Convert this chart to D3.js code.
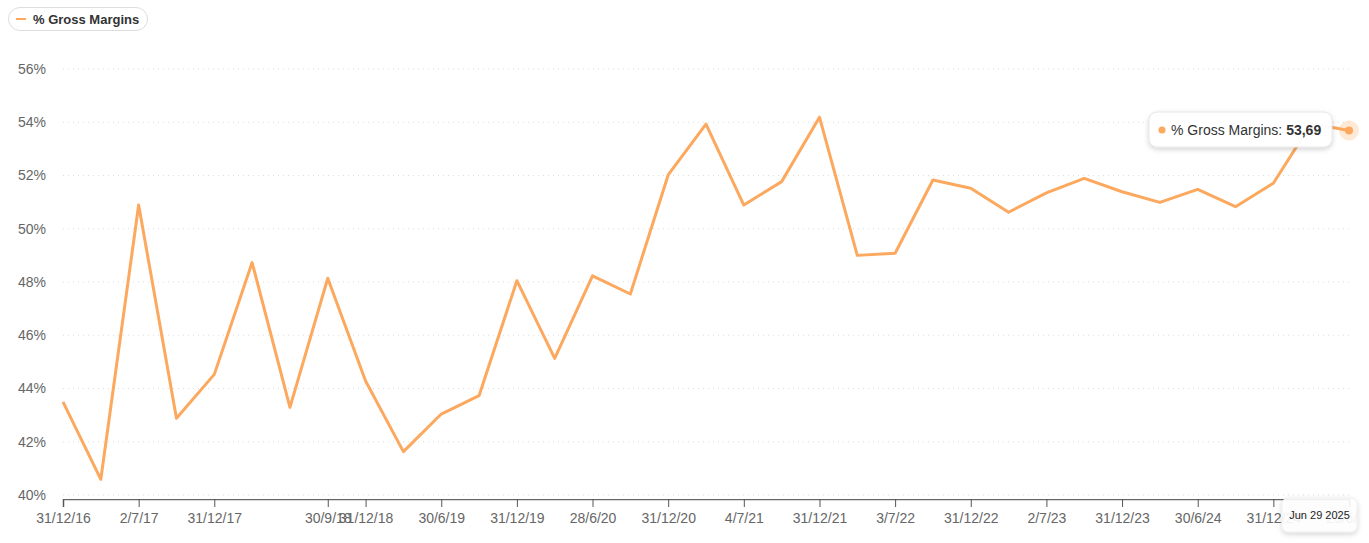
<!DOCTYPE html>
<html>
<head>
<meta charset="utf-8">
<script src="https://cdn.jsdelivr.net/npm/d3@7"></script>
<style>
  html, body { margin: 0; padding: 0; background: #fff; }
  svg { display: block; font-family: "Liberation Sans", Arial, sans-serif; }
</style>
</head>
<body>
<svg width="1369" height="543"></svg>
<script>
// quarterly dates (dd/m/yy) and gross margin values (%)
const dates = [
  '31/12/16', '2/4/17', '2/7/17', '1/10/17', '31/12/17', '1/4/18', '1/7/18', '30/9/18',
  '31/12/18', '31/3/19', '30/6/19', '29/9/19', '31/12/19', '29/3/20', '28/6/20', '27/9/20',
  '31/12/20', '4/4/21', '4/7/21', '3/10/21', '31/12/21', '3/4/22', '3/7/22', '2/10/22',
  '31/12/22', '2/4/23', '2/7/23', '1/10/23', '31/12/23', '31/3/24', '30/6/24', '29/9/24',
  '31/12/24', '30/3/25', '29/6/25'
];
const grossMargins = [
  43.50, 40.59, 50.89, 42.88, 44.53, 48.73, 43.29, 48.14,
  44.28, 41.63, 43.04, 43.73, 48.05, 45.13, 48.23, 47.55,
  52.02, 53.93, 50.89, 51.77, 54.19, 49.00, 49.08, 51.83,
  51.52, 50.62, 51.35, 51.89, 51.39, 50.99, 51.48, 50.83,
  51.71, 53.95, 53.69
];
const xTickLabels = [
  '31/12/16', '2/7/17', '31/12/17', '30/9/18', '31/12/18', '30/6/19', '31/12/19', '28/6/20',
  '31/12/20', '4/7/21', '31/12/21', '3/7/22', '31/12/22', '2/7/23', '31/12/23', '30/6/24',
  '31/12/24', '29/6/25'
];
const yTicks = [40, 42, 44, 46, 48, 50, 52, 54, 56];
const seriesName = '% Gross Margins';
const hoverLabel = 'Jun 29 2025';

const data = dates.map((d, i) => ({ date: d, value: grossMargins[i] }));
const lineColor = '#fca85e';

const svg = d3.select('svg');

const defs = svg.append('defs');
const shadow = defs.append('filter').attr('id', 'shadow')
  .attr('x', '-20%').attr('y', '-40%').attr('width', '140%').attr('height', '180%');
shadow.append('feDropShadow')
  .attr('dx', 0).attr('dy', 2).attr('stdDeviation', 2.5)
  .attr('flood-color', '#000').attr('flood-opacity', 0.18);

// the chart area ends just past the last point, labels beyond it are cut
defs.append('clipPath').attr('id', 'axisClip')
  .append('rect').attr('x', 0).attr('y', 0).attr('width', 1357).attr('height', 60);

const x = d3.scalePoint().domain(dates).range([63, 1349]);
const y = d3.scaleLinear().domain([40, 56]).range([495, 69]);

// grid
svg.append('g')
  .selectAll('line')
  .data(yTicks)
  .enter().append('line')
    .attr('x1', 63).attr('x2', 1351)
    .attr('y1', d => y(d)).attr('y2', d => y(d))
    .attr('stroke', '#dcdcdc')
    .attr('stroke-dasharray', '1,4');

// y labels
svg.append('g')
  .selectAll('text')
  .data(yTicks)
  .enter().append('text')
    .attr('x', 46)
    .attr('y', d => y(d))
    .attr('dy', '0.35em')
    .attr('text-anchor', 'end')
    .attr('font-size', 14)
    .attr('fill', '#666')
    .text(d => d + '%');

// x axis
const xAxisG = svg.append('g')
  .attr('transform', 'translate(0,499)')
  .attr('clip-path', 'url(#axisClip)')
  .call(d3.axisBottom(x).tickValues(xTickLabels).tickSizeOuter(0).tickSize(8).tickPadding(6));
xAxisG.select('.domain').attr('stroke', '#666').attr('stroke-width', 1.5);
xAxisG.selectAll('.tick line').attr('stroke', '#555');
xAxisG.selectAll('.tick text')
  .attr('font-size', 14)
  .attr('font-family', '"Liberation Sans", Arial, sans-serif')
  .attr('fill', '#666');

// crosshair
svg.append('line')
  .attr('x1', x('29/6/25')).attr('x2', x('29/6/25'))
  .attr('y1', 283).attr('y2', 497)
  .attr('stroke', '#e2e2e2').attr('stroke-width', 2)
  .attr('filter', 'url(#shadow)');

// line
const lineGen = d3.line()
  .x(d => x(d.date))
  .y(d => y(d.value));

svg.append('path')
  .datum(data)
  .attr('fill', 'none')
  .attr('stroke', lineColor)
  .attr('stroke-width', 3)
  .attr('stroke-linejoin', 'round')
  .attr('d', lineGen);

// hovered point
const last = data[data.length - 1];
svg.append('circle')
  .attr('cx', x(last.date)).attr('cy', y(last.value))
  .attr('r', 10).attr('fill', lineColor).attr('opacity', 0.25);
svg.append('circle')
  .attr('cx', x(last.date)).attr('cy', y(last.value))
  .attr('r', 4).attr('fill', lineColor);

// tooltip
const tip = svg.append('g').attr('transform', 'translate(1149,112)');
tip.append('rect')
  .attr('width', 183).attr('height', 35).attr('rx', 8)
  .attr('fill', '#fff').attr('fill-opacity', 0.97)
  .attr('stroke', '#e6e6e6')
  .attr('filter', 'url(#shadow)');
tip.append('circle').attr('cx', 13).attr('cy', 18).attr('r', 3.5).attr('fill', lineColor);
const tipText = tip.append('text')
  .attr('x', 22).attr('y', 22.5)
  .attr('font-size', 14).attr('fill', '#333');
tipText.append('tspan').text(seriesName + ': ');
tipText.append('tspan').attr('font-weight', 'bold').text(d3.format('.2f')(last.value).replace('.', ','));

// x hover label
const dateTip = svg.append('g').attr('transform', 'translate(1282,498)');
dateTip.append('rect')
  .attr('width', 75).attr('height', 34).attr('rx', 6)
  .attr('fill', '#fff').attr('fill-opacity', 0.9)
  .attr('stroke', '#eee')
  .attr('filter', 'url(#shadow)');
dateTip.append('text')
  .attr('x', 37.5).attr('y', 21)
  .attr('text-anchor', 'middle')
  .attr('font-size', 11).attr('fill', '#222')
  .text(hoverLabel);

// legend
const legend = svg.append('g').attr('transform', 'translate(8,7)');
legend.append('rect')
  .attr('x', 0.5).attr('y', 0.5)
  .attr('width', 139).attr('height', 23).attr('rx', 11.5)
  .attr('fill', '#fff').attr('stroke', '#ddd');
legend.append('line')
  .attr('x1', 8).attr('x2', 18).attr('y1', 12).attr('y2', 12)
  .attr('stroke', lineColor).attr('stroke-width', 2);
legend.append('text')
  .attr('x', 25).attr('y', 16.5)
  .attr('font-size', 13).attr('font-weight', 'bold').attr('fill', '#333')
  .text(seriesName);
</script>
</body>
</html>
